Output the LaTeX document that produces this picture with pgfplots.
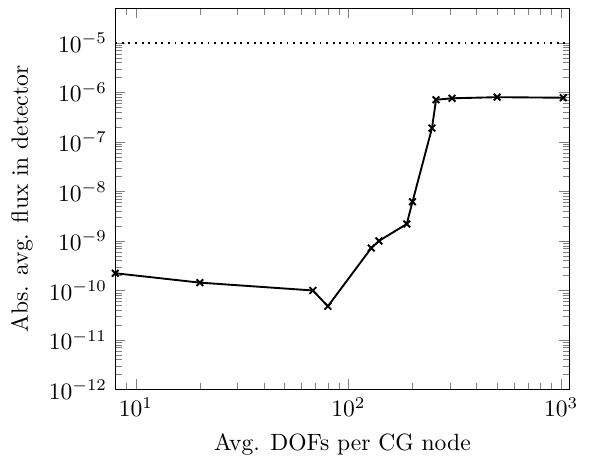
\documentclass[border=0pt]{standalone}
\usepackage{pgfplots}
\pgfplotsset{compat=1.18}
\begin{document}
\begin{tikzpicture}
\begin{axis}[
  scale only axis,
  width=193pt, height=162pt,
  xmode=log, ymode=log,
  xmin=8, xmax=1095,
  ymin=1e-12, ymax=5e-5,
  xlabel={Avg. DOFs per CG node},
  ylabel={Abs. avg. flux in detector},
  ytick={1e-12,1e-11,1e-10,1e-9,1e-8,1e-7,1e-6,1e-5},
]
\addplot[black, thick, mark=x, mark options={solid}] coordinates {
(8,2.23e-10)
(20,1.44e-10)
(68,1.0e-10)
(80,4.8e-11)
(128,7.2e-10)
(139,1.0e-9)
(188,2.2e-9)
(200,6.2e-9)
(247,1.9e-7)
(258,7.1e-7)
(307,7.6e-7)
(500,8.0e-7)
(1024,7.8e-7)
};
\addplot[black, thick, dotted] coordinates {(8,1e-5) (1095,1e-5)};
\end{axis}
\path ([yshift=3.5pt]current axis.north);
\path ([shift={(-1.3pt,-2.4pt)}]current axis.outer south west);
\path ([xshift=1.7pt]current axis.outer east);
\end{tikzpicture}
\end{document}
